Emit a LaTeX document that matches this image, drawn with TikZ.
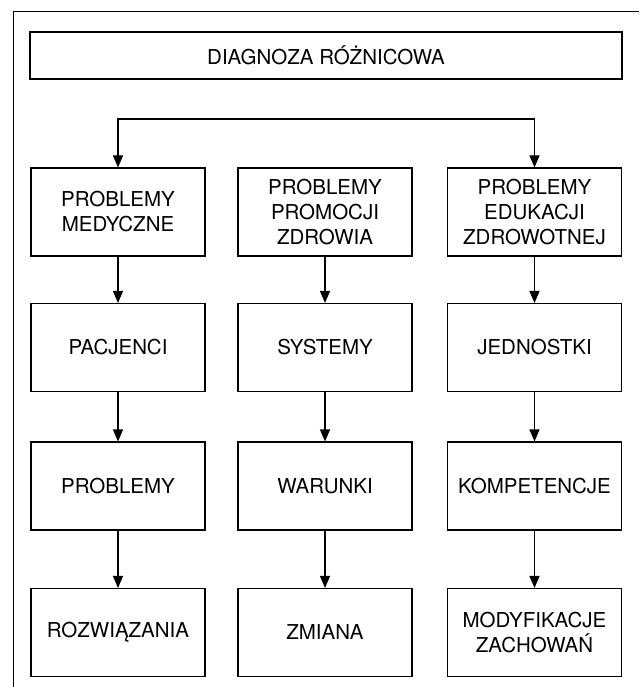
\documentclass[tikz,border=0pt]{standalone}
\usepackage{fontspec}
\setmainfont{TeX Gyre Heros}
\usetikzlibrary{arrows.meta,positioning}

\begin{document}
\begin{tikzpicture}[x=1pt,y=-1pt,% pixel units, y grows downwards
        >={Triangle[width=10pt,length=12pt]},%filled arrow heads
        box/.style={draw,line width=1.1pt,minimum width=174pt,minimum height=88pt,inner sep=2pt,align=center,font=\fontsize{20.5}{25}\selectfont},%
        arr/.style={line width=1.1pt,->}]
\useasboundingbox (0,0) rectangle (639,687);
\draw[line width=0.9pt] (639,11) -- (13,11) -- (13,687); % outer frame, cut by the page edge
\node[box,minimum width=592pt,minimum height=47pt] (title) at (326,55.5) {DIAGNOZA RÓŻNICOWA};

\foreach[count=\ri] \y/\t in {212/{PROBLEMY\\MEDYCZNE},347.5/PACJENCI,486/PROBLEMY,632.5/ROZWIĄZANIA}{ %left column
\node[box] (med-\ri) at (118,\y) {\t};
}
\foreach[count=\ri] \y/\t in {212/{PROBLEMY\\PROMOCJI\\ZDROWIA},347.5/SYSTEMY,486/WARUNKI,632.5/ZMIANA}{ %middle column
\node[box] (pro-\ri) at (325,\y) {\t};
}
\foreach[count=\ri] \y/\t in {212/{PROBLEMY\\EDUKACJI\\ZDROWOTNEJ},347.5/JEDNOSTKI,486/KOMPETENCJE,632.5/{MODYFIKACJE\\ZACHOWAŃ}}{ %right column
\node[box] (edu-\ri) at (534.5,\y) {\t};
}

\coordinate (split) at (325,119);
\draw[arr,<->] (med-1.north) |- (split) -| (edu-1.north);
\foreach \c in {med,pro,edu}{
\foreach \a/\b in {1/2,2/3,3/4}
\draw[arr] (\c-\a) -- (\c-\b);
}
\end{tikzpicture}
\end{document}
